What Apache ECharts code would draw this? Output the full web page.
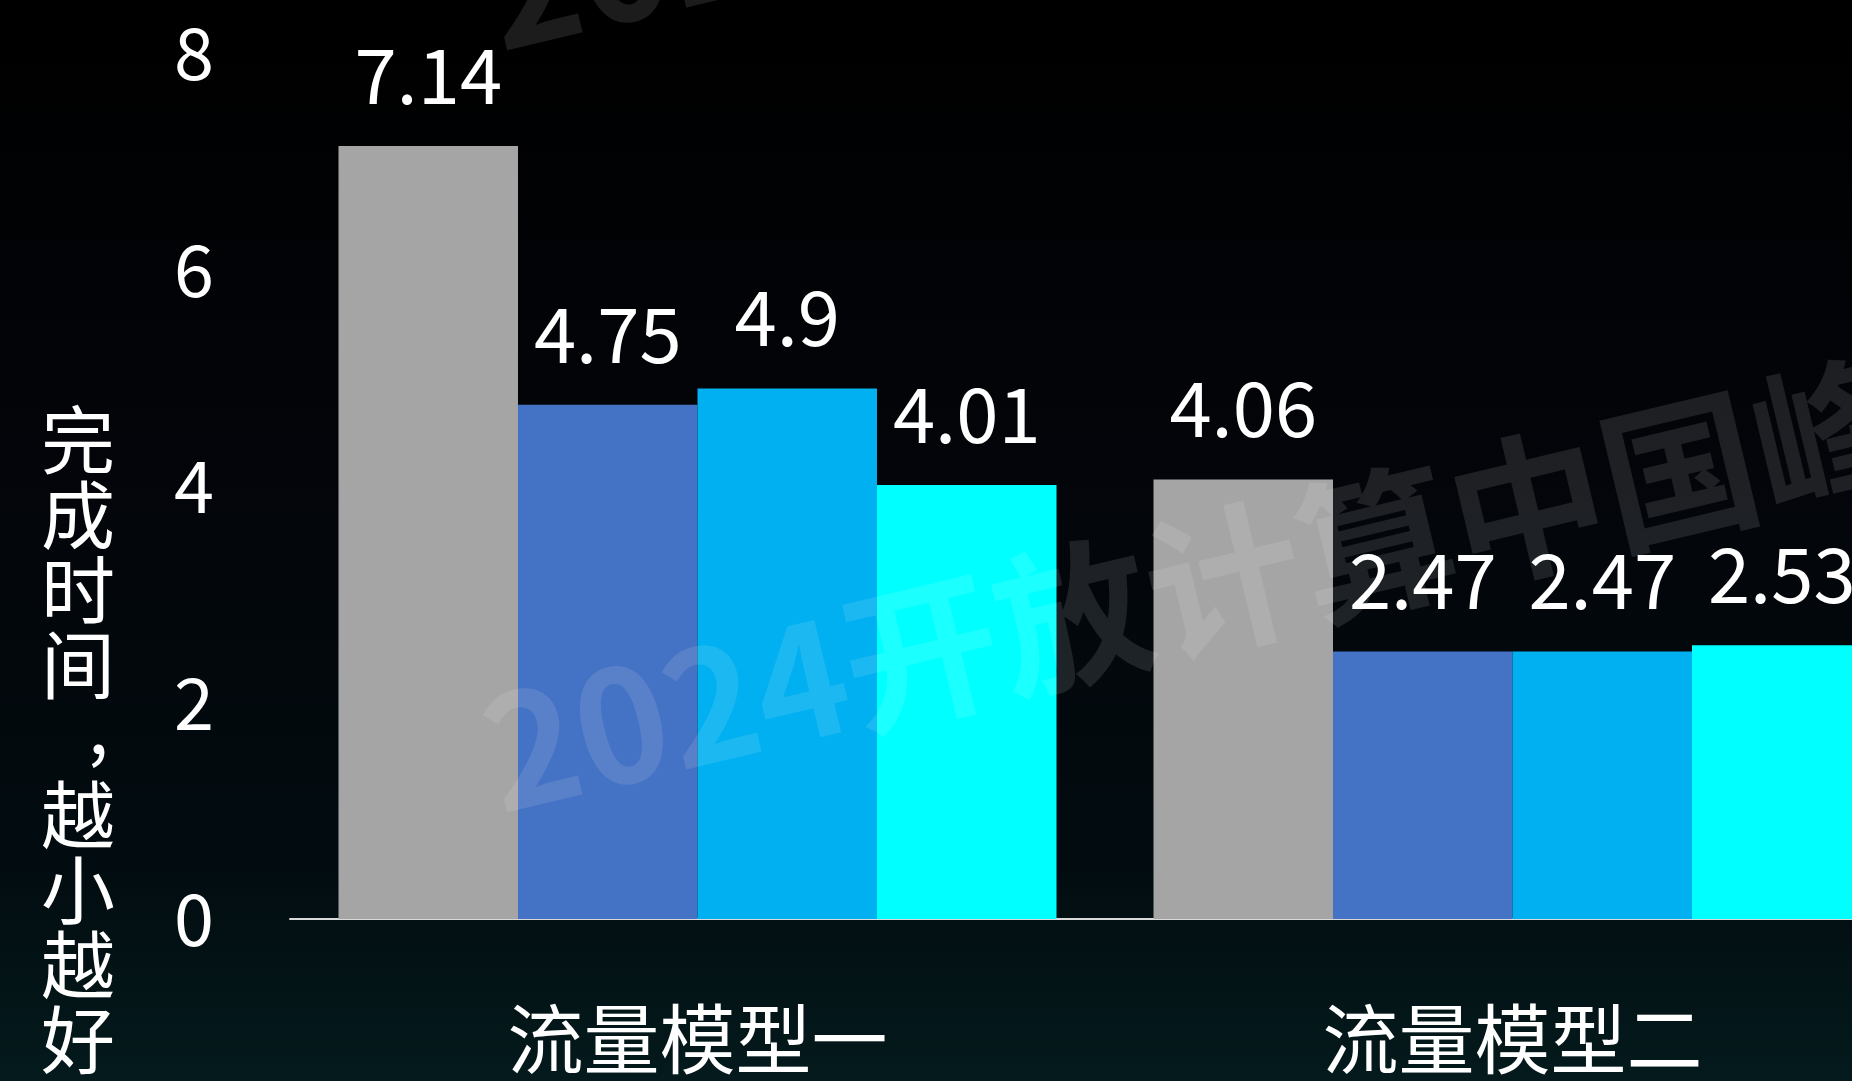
<!DOCTYPE html>
<html>
<head>
<meta charset="utf-8">
<script src="https://cdn.jsdelivr.net/npm/echarts@6/dist/echarts.min.js"></script>
<style>
html,body{margin:0;padding:0;background:#000;overflow:hidden;}
#chart{width:1852px;height:1081px;}
</style>
</head>
<body>
<div id="chart"></div>
<script>
var categories = ['流量模型一', '流量模型二'];
var seriesNames = ['系列1', '系列2', '系列3', '系列4'];
var series1 = [7.14, 4.06];
var series2 = [4.75, 2.47];
var series3 = [4.9, 2.47];
var series4 = [4.01, 2.53];
var yTicks = [0, 2, 4, 6, 8];
var yTitlePart1 = ['完', '成', '时', '间'];
var yTitleComma = ',';
var yTitlePart2 = ['越', '小', '越', '好'];
var watermarkText = '2024开放计算中国峰会';

var colors = ['#a5a5a5', '#4472c4', '#00b0f0', '#00ffff'];
var FONT = '"Noto Sans CJK SC", "Noto Sans", sans-serif';
var allData = [series1, series2, series3, series4];

var chart = echarts.init(document.getElementById('chart'));

var series = allData.map(function (d, i) {
  return {
    name: seriesNames[i],
    type: 'bar',
    data: d,
    barGap: '0%',
    barCategoryGap: '11.9%',
    itemStyle: { color: colors[i] },
    label: {
      show: true,
      position: 'top',
      distance: 33,
      color: '#ffffff',
      fontSize: 76,
      fontFamily: FONT
    }
  };
});

var titleStyle = {
  color: '#ffffff',
  fontSize: 74,
  lineHeight: 75,
  fontWeight: 'normal',
  fontFamily: FONT
};

var option = {
  backgroundColor: {
    type: 'linear', x: 0, y: 0, x2: 0, y2: 1,
    colorStops: [
      { offset: 0, color: '#000000' },
      { offset: 0.45, color: '#03050a' },
      { offset: 0.8, color: '#020c10' },
      { offset: 1, color: '#041a1c' }
    ]
  },
  animation: false,
  legend: { show: false },
  title: [
    { text: yTitlePart1.join('\n'), left: 41, top: 402, padding: 0, textStyle: titleStyle },
    { text: yTitleComma, left: 88, top: 688, padding: 0, textStyle: titleStyle },
    { text: yTitlePart2.join('\n'), left: 41, top: 777, padding: 0, textStyle: titleStyle }
  ],
  grid: {
    left: 290, top: 53, width: 1630, height: 866,
    containLabel: false, outerBoundsMode: 'none'
  },
  xAxis: {
    type: 'category',
    data: categories,
    axisLine: { show: true, lineStyle: { color: '#d9d9d9', width: 2 } },
    axisTick: { show: false },
    axisLabel: {
      color: '#ffffff',
      fontSize: 76,
      fontFamily: FONT,
      margin: 82
    }
  },
  yAxis: {
    type: 'value',
    min: yTicks[0],
    max: yTicks[yTicks.length - 1],
    interval: 2,
    axisLine: { show: false },
    axisTick: { show: false },
    splitLine: { show: false },
    axisLabel: {
      color: '#ffffff',
      fontSize: 72,
      fontFamily: FONT,
      margin: 76
    }
  },
  graphic: [
    {
      type: 'text', x: 505, y: 832, rotation: 0.235, z: 100,
      style: {
        text: watermarkText, fontSize: 156, fontWeight: 'bold',
        fontFamily: FONT, fill: 'rgba(255,255,255,0.11)',
        verticalAlign: 'bottom', align: 'left'
      }
    },
    {
      type: 'text', x: 505, y: 70, rotation: 0.235, z: 100,
      style: {
        text: watermarkText, fontSize: 156, fontWeight: 'bold',
        fontFamily: FONT, fill: 'rgba(255,255,255,0.11)',
        verticalAlign: 'bottom', align: 'left'
      }
    }
  ],
  series: series
};
chart.setOption(option);
</script>
</body>
</html>
